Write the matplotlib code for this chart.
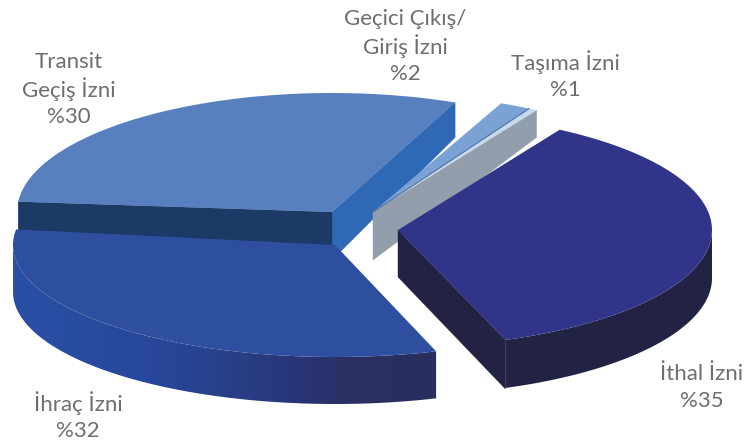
import numpy as np
import matplotlib
matplotlib.use('Agg')
import matplotlib.pyplot as plt
from matplotlib.colors import LinearSegmentedColormap
from matplotlib.patches import Polygon

# clockwise from the start angle
labels = ['İthal İzni', 'İhraç İzni', 'Transit\nGeçiş İzni', 'Geçici Çıkış/\nGiriş İzni', 'Taşıma İzni']
values = [35, 32, 30, 2, 1]

startangle = 59
# tip x, tip y, rx, ry, (start nudge, end nudge) in degrees, top colour
layout = [
    (398, 230, 314, 117, (0, -3), '#31358a'),
    (335, 245, 322, 112, (-4.7, -5.8), '#2e4f9f'),
    (332, 212, 315, 119, (-2.8, -2.8), '#5880bf'),
    (373, 212, 315, 119, (-3.8, -2.3), '#7ba2d4'),
    (373, 212, 315, 119, (-2.3, -0.3), '#c5d8ec'),
]
# x centre and y of the last line of each label
label_pos = [(702, 399), (78, 429), (69, 115), (405, 72), (565, 88)]
line_gap = 27.5

plt.rcParams['font.family'] = ['Lato', 'DejaVu Sans']

fig = plt.figure(figsize=(7.45, 4.44), dpi=100)
ax = fig.add_axes([0, 0, 1, 1])


def rim(i, a0, a1, n=120):
    cx, cy, rx, ry = layout[i][:4]
    a = np.radians(np.linspace(a0, a1, n))
    return np.column_stack([cx + rx * np.cos(a), cy - ry * np.sin(a)])


def side(top, d0, d1, color, z):
    # radial wall, deeper at the tip than at the rim because of the perspective
    pts = [top[0], top[1], top[1] + [0, d1], top[0] + [0, d0]]
    ax.add_patch(Polygon(pts, closed=True, fc=color, ec=color, lw=0.3, zorder=z))


def wall(i, a0, a1, depth, cmap, z):
    pts = rim(i, a0, a1, 160)
    outline = np.vstack([pts, pts[::-1] + [0, depth]])
    x0, x1 = outline[:, 0].min(), outline[:, 0].max()
    y0, y1 = outline[:, 1].min(), outline[:, 1].max()
    # horizontal gradient clipped to the wall
    im = ax.imshow(np.linspace(0, 1, 256).reshape(1, -1), cmap=cmap, aspect='auto',
                   extent=(x0, x1, y1, y0), zorder=z)
    clip = Polygon(outline, closed=True, transform=ax.transData, fc='none', ec='none')
    ax.add_patch(clip)
    im.set_clip_path(clip)


edges = []
theta = startangle
for i, v in enumerate(values):
    sweep = v / sum(values) * 360
    nudge = layout[i][4]
    edges.append((theta + nudge[0], theta - sweep + nudge[1]))
    theta -= sweep

faces = []
for i in range(len(values)):
    cx, cy = layout[i][:2]
    a0, a1 = edges[i]
    faces.append(np.vstack([[cx, cy], rim(i, a0, a1)]))

# Transit walls, behind everything
tr = faces[2]
side(np.array([tr[0], tr[-1]]), 48, 35, '#2f69b5', 1)
side(np.array([tr[1], tr[0]]), 30, 34, '#1b3a66', 2)

# small slices
ts = faces[4]
side(np.array([ts[0], ts[-1]]), 48, 27, '#929eab', 3)
ax.add_patch(Polygon(faces[3], closed=True, fc=layout[3][5], ec='none', zorder=4))
ax.plot([faces[3][0][0], faces[3][-1][0]], [faces[3][0][1], faces[3][-1][1]],
        color='#4d6f9e', lw=0.8, zorder=5)
ax.add_patch(Polygon(ts, closed=True, fc=layout[4][5], ec='none', zorder=4))

ax.add_patch(Polygon(tr, closed=True, fc=layout[2][5], ec='none', zorder=3))

# İhraç wall goes from blue to a dark navy
ihrac_cmap = LinearSegmentedColormap.from_list('ihrac', [
    (0, '#2a50a5'), (0.33, '#27479a'), (0.49, '#29418a'),
    (0.68, '#283576'), (0.8, '#2a2f60'), (1, '#28305e')])
wall(1, -180, edges[1][0], 47, ihrac_cmap, 6)
ax.add_patch(Polygon(faces[1], closed=True, fc=layout[1][5], ec='none', zorder=7))

# İthal
ithal_cmap = LinearSegmentedColormap.from_list('ithal', ['#222243', '#232345'])
side(np.array([faces[0][0], faces[0][-1]]), 47, 49, '#222243', 8)
wall(0, edges[0][1], 0, 48, ithal_cmap, 8)
ax.add_patch(Polygon(faces[0], closed=True, fc=layout[0][5], ec='none', zorder=9))

for lab, v, (x, y) in zip(labels, values, label_pos):
    lines = lab.split('\n') + ['%%%d' % v]
    for k, line in enumerate(lines):
        ax.text(x, y - (len(lines) - 1 - k) * line_gap, line, ha='center', va='center_baseline',
                fontsize=16, color='#6d6e71', zorder=10)

ax.set_xlim(0, 745)
ax.set_ylim(444, 0)
ax.axis('off')

fig.savefig('out.png', dpi=100, facecolor='white')
